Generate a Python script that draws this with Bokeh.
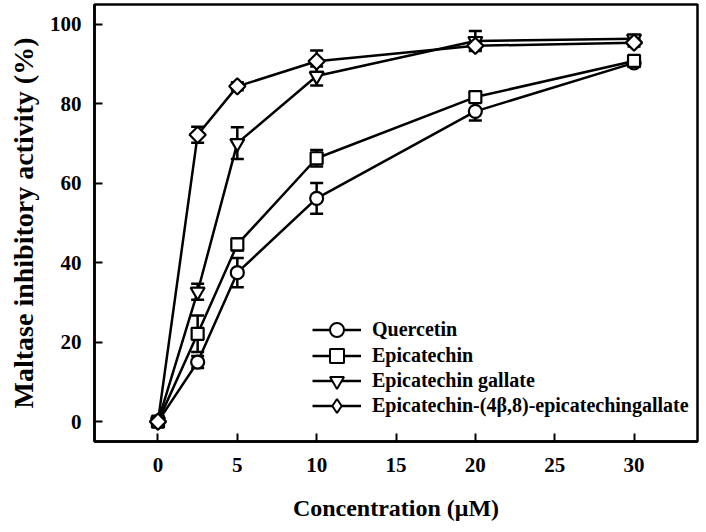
import numpy as np
from bokeh.plotting import figure
from bokeh.models import ColumnDataSource, Whisker, TeeHead, Legend, LegendItem, FixedTicker
from bokeh.embed import file_html
from bokeh.resources import INLINE

conc = [0, 2.5, 5, 10, 20, 30]

series_names = ["Quercetin", "Epicatechin", "Epicatechin gallate",
                "Epicatechin-(4\u03b2,8)-epicatechingallate"]
quercetin = [0, 15.0, 37.5, 56.2, 78.1, 90.3]
quercetin_err = [1.0, 1.5, 3.7, 3.9, 2.3, 1.0]
epicatechin = [0, 22.1, 44.6, 66.3, 81.7, 90.8]
epicatechin_err = [1.0, 4.6, 1.5, 2.1, 1.0, 1.0]
ecg = [0, 32.7, 70.1, 87.0, 95.8, 96.4]
ecg_err = [1.0, 2.0, 4.0, 2.4, 2.5, 1.0]
dimer = [0, 72.2, 84.4, 90.7, 94.6, 95.4]
dimer_err = [1.0, 2.0, 1.0, 2.7, 1.0, 1.0]

x_ticks = [0, 5, 10, 15, 20, 25, 30]
y_ticks = [0, 20, 40, 60, 80, 100]

FONT = "Liberation Serif"

p = figure(width=699, height=523, output_backend="svg", toolbar_location=None,
           x_range=(-4, 34), y_range=(-5, 105),
           min_border_left=94, min_border_right=2, min_border_top=4, min_border_bottom=82)
p.grid.visible = False
p.outline_line_color = "black"
p.outline_line_width = 2.5

for ax in (p.xaxis[0], p.yaxis[0]):
    ax.major_tick_in = 8
    ax.major_tick_out = 0
    ax.minor_tick_line_color = None
    ax.axis_line_width = 2.5
    ax.major_tick_line_width = 2
    ax.major_label_text_font = FONT
    ax.major_label_text_font_style = "bold"
    ax.major_label_text_font_size = "21px"
    ax.major_label_text_color = "black"
    ax.axis_label_text_font = FONT
    ax.axis_label_text_font_style = "bold"
    ax.axis_label_text_color = "black"

p.xaxis.axis_label_text_font_size = "24px"
p.yaxis.axis_label_text_font_size = "28px"
p.xaxis.ticker = FixedTicker(ticks=x_ticks)
p.yaxis.ticker = FixedTicker(ticks=y_ticks)
p.xaxis.axis_label = "Concentration (\u03bcM)"
p.yaxis.axis_label = "Maltase inhibitory activity (%)"
p.xaxis.major_label_standoff = 16
p.yaxis.major_label_standoff = 13
p.xaxis.axis_label_standoff = 20
p.yaxis.axis_label_standoff = 8

markers = [("circle", 13, 0.0), ("square", 12, 0.0), ("inverted_triangle", 14, 0.0), ("square", 11.5, np.pi / 4)]
legend_markers = ["circle", "square", "inverted_triangle", "diamond"]
all_y = [quercetin, epicatechin, ecg, dimer]
all_e = [quercetin_err, epicatechin_err, ecg_err, dimer_err]

sources = []
line_rs = []
for ys, es in zip(all_y, all_e):
    src = ColumnDataSource(dict(x=conc, y=ys,
                                lo=[a - b for a, b in zip(ys, es)],
                                hi=[a + b for a, b in zip(ys, es)]))
    sources.append(src)
    w = Whisker(base="x", lower="lo", upper="hi", source=src, level="underlay",
                line_width=2.5, line_color="black",
                upper_head=TeeHead(size=13, line_width=2.5, line_color="black"),
                lower_head=TeeHead(size=13, line_width=2.5, line_color="black"))
    p.add_layout(w)
    line_rs.append(p.line("x", "y", source=src, line_color="black", line_width=2.5))

# one single-item legend per series, stacked 25px apart
legend_offsets = [94, 68, 43, 18]
for name, src, lr, (mk, sz, ang), lmk, off in zip(series_names, sources, line_rs, markers,
                                                   legend_markers, legend_offsets):
    p.scatter("x", "y", source=src, marker=mk, size=sz, angle=ang,
              fill_color="white", line_color="black", line_width=2.2)
    lg = p.scatter("x", "y", source=src, marker=lmk, size=sz,
                   fill_color="white", line_color="black", line_width=2.0, visible=False)
    leg = Legend(items=[LegendItem(label=name, renderers=[lr, lg])],
                 location=(218, off), border_line_color=None, background_fill_alpha=0,
                 label_text_font=FONT, label_text_font_style="bold", label_text_font_size="20px",
                 label_text_color="black", glyph_width=49, glyph_height=35, spacing=0,
                 label_standoff=11, padding=0, margin=0)
    p.add_layout(leg)

open("out.html", "w").write(file_html(p, INLINE))
